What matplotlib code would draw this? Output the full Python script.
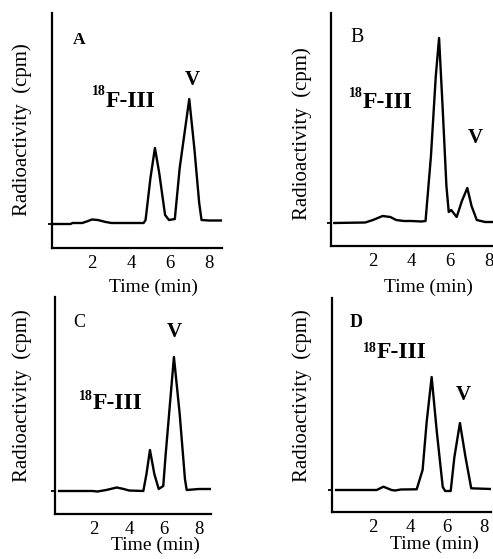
import matplotlib
matplotlib.use("Agg")
import matplotlib.pyplot as plt

plt.rcParams['font.family'] = ['Liberation Serif', 'DejaVu Serif']

W, H = 493, 559
DPI = 100

# ---- data (time in min, radioactivity in arbitrary cpm units) ----
time_A = [0, 0.9, 1.0, 1.5, 1.8, 2.0, 2.3, 2.7, 3.0, 4.65, 4.75, 5.0, 5.23, 5.45, 5.75, 5.95, 6.25, 6.5, 6.99, 7.25, 7.5, 7.62, 8.0, 8.7]
cpm_A = [24, 24, 25, 25, 27, 28.5, 28, 26, 25, 25, 28, 70, 100, 75, 33, 28, 29, 80, 149, 100, 45, 28, 27.5, 27.5]

time_B = [0, 1.6, 2.0, 2.5, 2.9, 3.2, 3.6, 4.0, 4.5, 4.72, 5.0, 5.25, 5.42, 5.6, 5.8, 5.92, 6.05, 6.33, 6.6, 6.88, 7.1, 7.37, 7.8, 8.6]
cpm_B = [23, 23.5, 26, 30, 29, 26, 25, 25, 24.5, 25, 90, 170, 208, 140, 60, 34, 36, 29, 45, 58, 40, 26, 24, 24]

time_C = [0, 1.9, 2.2, 2.7, 3.3, 3.7, 4.0, 4.82, 5.0, 5.2, 5.45, 5.7, 5.96, 6.1, 6.57, 6.9, 7.2, 7.3, 8.0, 8.67]
cpm_C = [23, 23, 22.5, 24, 26.5, 25, 23.5, 23, 40, 64, 40, 25, 28, 60, 157, 100, 35, 24, 25, 25]

time_D = [0, 2.2, 2.56, 3.0, 3.2, 3.5, 4.36, 4.68, 4.9, 5.17, 5.45, 5.77, 5.9, 6.2, 6.4, 6.7, 7.0, 7.31, 8.36]
cpm_D = [22, 22, 25.3, 22, 21.5, 22.5, 22.7, 42, 90, 135, 80, 25, 21, 21, 55, 89, 55, 23.7, 23]

baselines = [24, 23, 23, 22]
x_ticks = [2, 4, 6, 8]
panel_letters = ['A', 'B', 'C', 'D']

fig = plt.figure(figsize=(W / DPI, H / DPI), dpi=DPI)

def px_axes(left, right, bottom, top):
    return fig.add_axes([left / W, 1 - bottom / H, (right - left) / W, (bottom - top) / H])

# panel geometry in pixels: left, right, bottom(x-axis), top, xlim, ylim top
panels = [
    dict(box=(52, 222, 248, 13), xlim=(-0.05, 8.67), ytop=235),
    dict(box=(331, 505, 246, 13), xlim=(-0.17, 8.83), ytop=233),
    dict(box=(55, 211, 514, 297), xlim=(-0.23, 8.69), ytop=217),
    dict(box=(332, 491, 512, 298), xlim=(-0.22, 8.38), ytop=214),
]
series = [(time_A, cpm_A), (time_B, cpm_B), (time_C, cpm_C), (time_D, cpm_D)]

for i, (p, (t, c)) in enumerate(zip(panels, series)):
    ax = px_axes(*p['box'])
    ax.plot(t, c, color='black', lw=1.7, solid_joinstyle='round')
    ax.set_xlim(*p['xlim'])
    ax.set_ylim(0, p['ytop'])
    for s in ['top', 'right']:
        ax.spines[s].set_visible(False)
    for s in ['left', 'bottom']:
        ax.spines[s].set_linewidth(1.6)
    ax.set_xticks(x_ticks)
    ax.tick_params(axis='x', length=0, pad=5, labelsize=13.5)
    ax.set_yticks([baselines[i]])
    ax.set_yticklabels([])
    ax.tick_params(axis='y', length=3, width=1.3, direction='out')
    ax.patch.set_alpha(0)

def ftext(x, y, s, **kw):
    fig.text(x / W, 1 - y / H, s, **kw)

# panel letters
ftext(73, 44, 'A', fontsize=12.5, fontweight='bold', ha='left', va='baseline')
ftext(350, 42, 'B', fontsize=14.5, ha='left', va='baseline')
ftext(73, 327, 'C', fontsize=13, ha='left', va='baseline')
ftext(350, 327, 'D', fontsize=13, fontweight='bold', ha='left', va='baseline')

# compound labels
labels_III = [((95, 95), (106, 107)), ((349, 97), (363, 108)), ((80, 400), (93, 409)), ((363, 352), (377, 358))]
for (sx, sy), (fx, fy) in labels_III:
    ftext(fx, sy, '18', fontsize=10, fontweight='bold', ha='right', va='baseline')
    ftext(fx, fy, 'F-III', fontsize=17, fontweight='bold', ha='left', va='baseline')

for (vx, vy) in [(192, 85), (475, 143), (174, 337), (463, 400)]:
    ftext(vx, vy, 'V', fontsize=15, fontweight='bold', ha='center', va='baseline')

# axis labels
for (yx, yy) in [(22, 130), (302, 134), (22, 396), (302, 396)]:
    ftext(yx, yy, 'Radioactivity  (cpm)', fontsize=15, rotation=90, ha='center', va='center')
for (xx, xy) in [(153, 292), (428, 292), (155, 550), (434, 549)]:
    ftext(xx, xy, 'Time (min)', fontsize=14, ha='center', va='baseline')

fig.savefig('out.png', dpi=DPI)
